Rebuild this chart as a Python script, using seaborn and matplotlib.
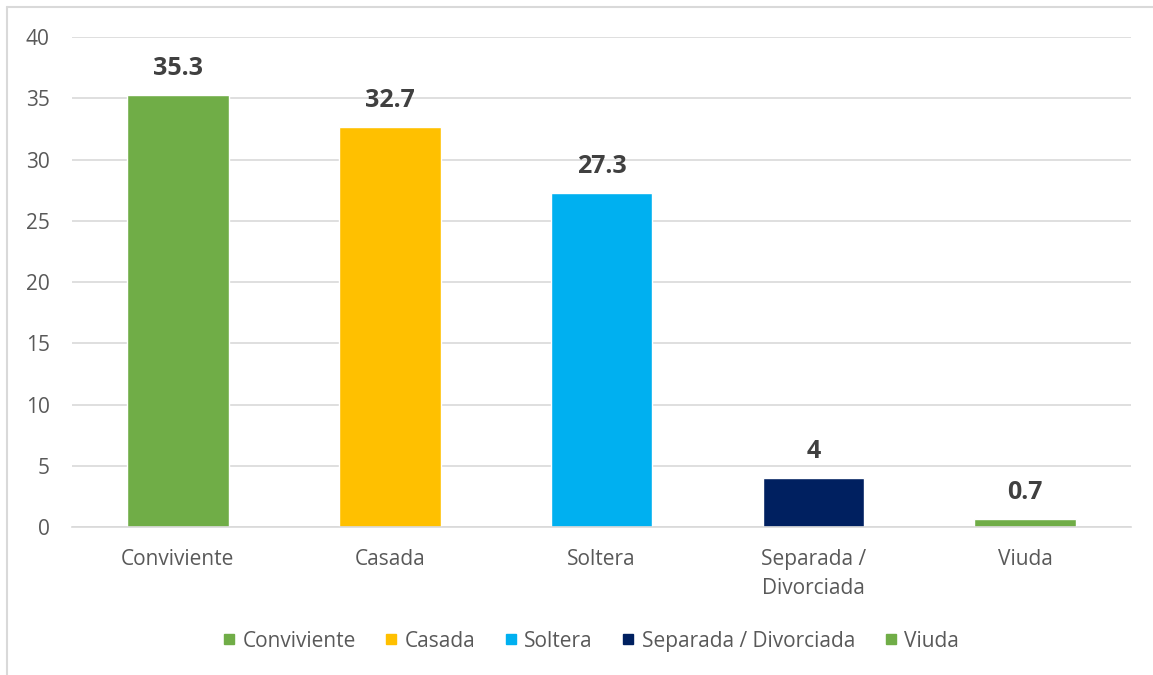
import matplotlib
matplotlib.use("Agg")
import matplotlib.pyplot as plt
import seaborn as sns
from matplotlib.lines import Line2D

categories = ["Conviviente", "Casada", "Soltera", "Separada / Divorciada", "Viuda"]
tick_labels = ["Conviviente", "Casada", "Soltera", "Separada /\nDivorciada", "Viuda"]
values = [35.3, 32.7, 27.3, 4, 0.7]
label_texts = ["35.3", "32.7", "27.3", "4", "0.7"]
colors = ["#70AD47", "#FFC000", "#00B0F0", "#002060", "#70AD47"]

sns.set_style("white")
plt.rcParams["font.family"] = ["Open Sans", "DejaVu Sans"]

fig = plt.figure(figsize=(11.53, 6.75), dpi=100)
ax = fig.add_axes([0.0624, 0.219, 0.9186, 0.726])

sns.barplot(x=categories, y=values, hue=categories, palette=colors,
            legend=False, width=0.48, saturation=1, ax=ax)

ax.set_ylim(0, 40)
ax.set_xlim(-0.5, 4.5)
ax.set_yticks(range(0, 41, 5))
ax.yaxis.grid(True, color="#D9D9D9", linewidth=1.2)
ax.set_axisbelow(True)
for s in ["top", "right", "left"]:
    ax.spines[s].set_visible(False)
ax.spines["bottom"].set_color("#D9D9D9")
ax.spines["bottom"].set_linewidth(1.2)

ax.set_xticks(range(len(categories)))
ax.set_xticklabels(tick_labels, linespacing=1.45)
ax.set_xticks([i - 0.5 for i in range(len(categories) + 1)], minor=True)
ax.tick_params(axis="x", which="major", length=0, pad=16, labelsize=15, labelcolor="#595959")
ax.tick_params(axis="x", which="minor", length=6, color="#D9D9D9", width=1.2)
ax.tick_params(axis="y", length=0, pad=16, labelsize=15, labelcolor="#595959")
ax.set_xlabel("")
ax.set_ylabel("")

for i, (v, t) in enumerate(zip(values, label_texts)):
    ax.annotate(t, (i, v), xytext=(0, 10), textcoords="offset points",
                ha="center", va="bottom", fontsize=18, fontweight="bold",
                color="#404040")

handles = [Line2D([], [], marker="s", linestyle="", markersize=7,
                  markerfacecolor=c, markeredgecolor=c) for c in colors]
fig.legend(handles, categories, loc="center", bbox_to_anchor=(0.512, 0.05),
           ncol=5, frameon=False, fontsize=15, labelcolor="#595959",
           handletextpad=0.3, columnspacing=1.35, handlelength=0.7)

fig.add_artist(Line2D([7 / 1153, 1], [1 - 7 / 675, 1 - 7 / 675],
                      transform=fig.transFigure, color="#D9D9D9", linewidth=1.5))
fig.add_artist(Line2D([7 / 1153, 7 / 1153], [0, 1 - 7 / 675],
                      transform=fig.transFigure, color="#D9D9D9", linewidth=1.5))

fig.savefig("out.png", dpi=100, facecolor="white")
